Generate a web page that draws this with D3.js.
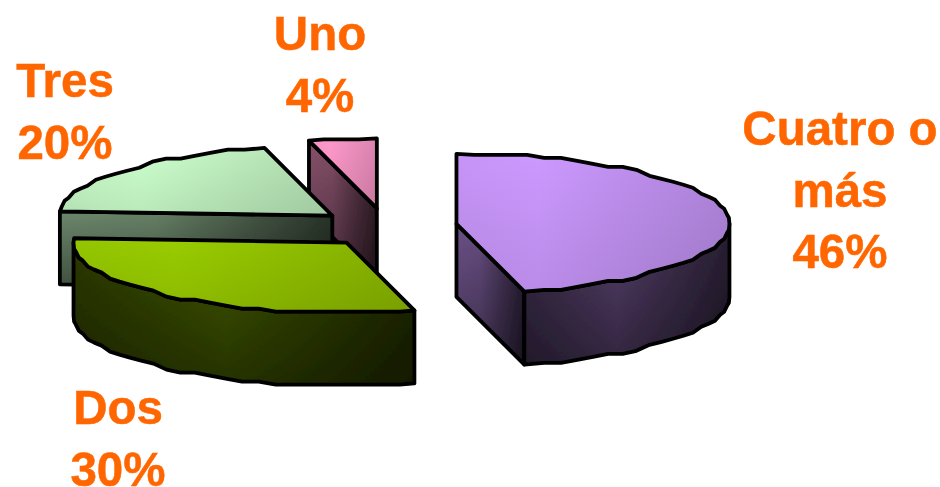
<!DOCTYPE html>
<html><head><meta charset="utf-8">
<script src="https://cdn.jsdelivr.net/npm/d3@7"></script>
<style>html,body{margin:0;padding:0;background:#fff}svg{display:block}
text{font-family:"Liberation Sans",Arial,sans-serif;font-weight:bold;fill:#FF6600;stroke:#FF6600;stroke-width:.5px;font-size:47.5px;text-anchor:middle}</style>
</head><body><svg id="c" width="940" height="487"></svg>
<script>
const categories = ["Cuatro o más","Dos","Tres","Uno"];
const values = [46,30,20,4];
const colors = ["#CC99FF","#99CC00","#CCFFCC","#FF99CC"];
const labelLines = [["Cuatro o","más","46%"],["Dos","30%"],["Tres","20%"],["Uno","4%"]];
const labelCenters = [[840,145],[118,424],[65,97],[320,50]];
const sliceNudge = [[0.5,0],[3,3],[-2,1],[-2,0]];
const drawOrder = [3,2,0,1];

const W=940,H=487, cx=387.5, cy=226, rx=273, ry=70, explode=69, depth=73, lineGap=61.5;
const svg=d3.select("#c");
const defs=svg.append("defs");
defs.append("filter").attr("id","soft").attr("x","-5%").attr("y","-5%").attr("width","110%").attr("height","110%")
  .append("feGaussianBlur").attr("stdDeviation",0.45);
const vshade=(id,a)=>{const g=defs.append("linearGradient").attr("id",id).attr("x1",0).attr("y1",0).attr("x2",0).attr("y2",1);
  g.append("stop").attr("offset",0).attr("stop-color","#000").attr("stop-opacity",0);
  g.append("stop").attr("offset",1).attr("stop-color","#000").attr("stop-opacity",a);};
vshade("topV",0.09); vshade("wallV",0.42);

const pie=d3.pie().sort(null).startAngle(0).endAngle(2*Math.PI);
const arcs=pie(values);
const line=d3.line();
const P=(ox,oy,a,dz=0)=>[ox+rx*Math.sin(a), oy-ry*Math.cos(a)+dz];
const step=Math.PI/48, gap=Math.PI/90;
function rim(ox,oy,a0,a1,dz=0){
  const lo=Math.min(a0,a1), hi=Math.max(a0,a1), inner=[];
  for(let k=Math.ceil(lo/step);k*step<hi;k++){
    const a=k*step;
    if(a-lo<gap||hi-a<gap) continue;
    const p=P(0,0,a);
    inner.push([ox+p[0], oy+dz+Math.round(p[1]/3)*3]);
  }
  const pts=[P(ox,oy,lo,dz),...inner,P(ox,oy,hi,dz)];
  return a0<=a1?pts:pts.reverse();
}
function hgrad(id,stops){
  const g=defs.append("linearGradient").attr("id",id);
  stops.forEach(([o,c])=>g.append("stop").attr("offset",o).attr("stop-color",c));
  return `url(#${id})`;
}
const shade=(c,t)=>d3.interpolateRgb(c,"#000")(t);
const root=svg.append("g").attr("filter","url(#soft)");
const stroke=(sel)=>sel.attr("stroke","#000").attr("stroke-width",3.8).attr("stroke-linejoin","round");

drawOrder.forEach(i=>{
  const d=arcs[i], c=colors[i], mid=(d.startAngle+d.endAngle)/2;
  const ox=cx+explode*Math.sin(mid)+sliceNudge[i][0], oy=cy-explode*(ry/rx)*Math.cos(mid)+sliceNudge[i][1];
  const g=root.append("g");
  const A=[ox,oy];
  const face=(a,id)=>{
    const p=P(ox,oy,a), pts=[A,p,[p[0],p[1]+depth],[ox,oy+depth]];
    const f=hgrad(id,[[0,shade(c,.47)],[.35,shade(c,.5)],[1,shade(c,.8)]]);
    const dd=line(pts)+"Z";
    g.append("path").attr("d",dd).attr("fill",f);
    g.append("path").attr("d",dd).attr("fill","url(#wallV)");
    stroke(g.append("path").attr("d",dd).attr("fill","none"));
  };
  if(Math.sin(d.startAngle)<-1e-6) face(d.startAngle,"fs"+i);
  if(Math.sin(d.endAngle)>1e-6) face(d.endAngle,"fe"+i);
  const w0=Math.max(d.startAngle,Math.PI/2), w1=Math.min(d.endAngle,3*Math.PI/2);
  if(w1>w0){
    const pts=rim(ox,oy,w0,w1).concat(rim(ox,oy,w1,w0,depth));
    const f=hgrad("fw"+i,[[0,shade(c,.72)],[.45,shade(c,.58)],[1,shade(c,.8)]]);
    const dd=line(pts)+"Z";
    g.append("path").attr("d",dd).attr("fill",f);
    g.append("path").attr("d",dd).attr("fill","url(#wallV)");
    stroke(g.append("path").attr("d",dd).attr("fill","none"));
  }
  const topPts=[A].concat(rim(ox,oy,d.startAngle,d.endAngle));
  const dd=line(topPts)+"Z";
  const tf=hgrad("ft"+i,[[0,shade(c,.03)],[.3,shade(c,0)],[1,shade(c,.14)]]);
  g.append("path").attr("d",dd).attr("fill",tf);
  g.append("path").attr("d",dd).attr("fill","url(#topV)");
  stroke(g.append("path").attr("d",dd).attr("fill","none"));
});

const lab=root.append("g");
labelLines.forEach((ls,i)=>{
  ls.forEach((s,k)=>lab.append("text").attr("x",labelCenters[i][0]).attr("y",labelCenters[i][1]+k*lineGap).text(s));
});
</script></body></html>
